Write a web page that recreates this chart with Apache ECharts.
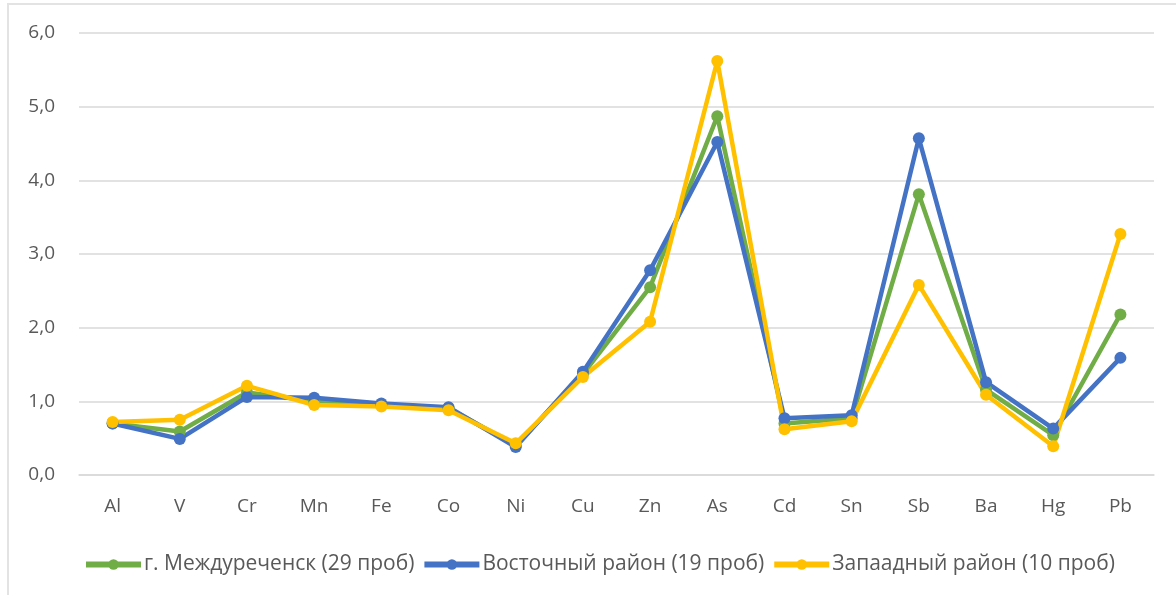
<!doctype html>
<html>
<head>
    <meta charset="utf-8">
    <title>chart</title>
    <style>
        html, body { margin: 0; padding: 0; background: #fff; }
        .frame { position: absolute; left: 7px; top: 3px; width: 1169px; height: 592px;
                 border-left: 2px solid #e3e3e3; border-top: 2px solid #e3e3e3; }
        #chart { position: absolute; left: 0; top: 0; width: 1176px; height: 595px; }
    </style>
</head>
<body>
<div class="frame"></div>
<div id="chart"></div>
<script src="https://cdn.jsdelivr.net/npm/echarts@6/dist/echarts.min.js"></script>
<script>
    // категории и значения
    var elements = ['Al', 'V', 'Cr', 'Mn', 'Fe', 'Co', 'Ni', 'Cu', 'Zn', 'As', 'Cd', 'Sn', 'Sb', 'Ba', 'Hg', 'Pb'];
    var cityName = 'г. Междуреченск (29 проб)';
    var eastName = 'Восточный район (19 проб)';
    var westName = 'Запаадный район (10 проб)';
    var cityVals = [0.70, 0.59, 1.12, 1.00, 0.95, 0.91, 0.40, 1.37, 2.55, 4.87, 0.70, 0.77, 3.81, 1.16, 0.54, 2.18];
    var eastVals = [0.70, 0.49, 1.06, 1.05, 0.97, 0.92, 0.38, 1.40, 2.78, 4.52, 0.77, 0.81, 4.57, 1.26, 0.63, 1.59];
    var westVals = [0.72, 0.75, 1.21, 0.95, 0.93, 0.88, 0.43, 1.33, 2.08, 5.62, 0.62, 0.73, 2.58, 1.09, 0.39, 3.27];

    var chart = echarts.init(document.getElementById('chart'));

    function line(name, data, color) {
        return {
            name: name,
            type: 'line',
            data: data,
            symbol: 'circle',
            symbolSize: 12,
            lineStyle: { width: 4.5, color: color },
            itemStyle: { color: color },
            emphasis: { disabled: true }
        };
    }

    var font = 'Open Sans';

    chart.setOption({
        animation: false,
        grid: { left: 79, right: 22, top: 33, bottom: 120 },
        legend: {
            top: 549,
            left: 78,
            itemWidth: 55,
            itemHeight: 13,
            itemGap: 7,
            lineStyle: { width: 6 },
            textStyle: { fontFamily: font, fontSize: 21, color: '#595959', padding: [0, 0, 0, -2] },
            data: [cityName, eastName, westName]
        },
        xAxis: {
            type: 'category',
            data: elements,
            axisLine: { lineStyle: { color: '#d9d9d9', width: 1.5 } },
            axisTick: { show: false },
            axisLabel: { fontFamily: font, fontSize: 19, color: '#595959', margin: 22 }
        },
        yAxis: {
            type: 'value',
            min: 0,
            max: 6,
            interval: 1,
            axisLine: { show: false },
            axisTick: { show: false },
            splitLine: { lineStyle: { color: '#d9d9d9', width: 1.5 } },
            axisLabel: {
                fontFamily: font, fontSize: 19, color: '#595959', margin: 24,
                formatter: function (v) { return v.toFixed(1).replace('.', ','); }
            }
        },
        series: [
            line(cityName, cityVals, '#70AD47'),
            line(eastName, eastVals, '#4472C4'),
            line(westName, westVals, '#FFC000')
        ]
    });
</script>
</body>
</html>
